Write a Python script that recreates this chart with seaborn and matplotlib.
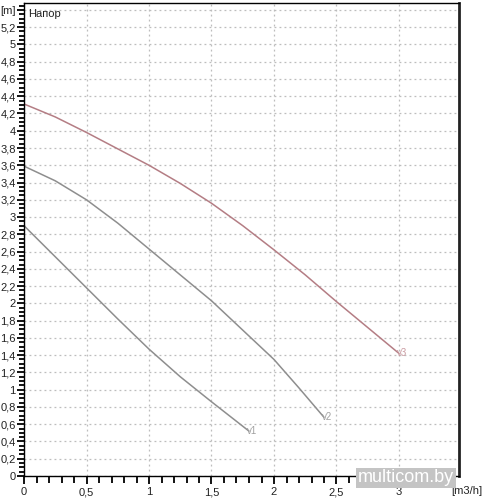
import matplotlib
matplotlib.use("Agg")
import matplotlib.pyplot as plt
from matplotlib.ticker import MultipleLocator, FixedLocator
import seaborn as sns
import pandas as pd
import numpy as np

# ---- data ----
q1 = [0.0, 0.25, 0.5, 0.75, 1.0, 1.25, 1.5, 1.8]
h1 = [2.90, 2.54, 2.18, 1.82, 1.47, 1.15, 0.86, 0.52]

q2 = [0.0, 0.25, 0.5, 0.75, 1.0, 1.25, 1.5, 1.75, 2.0, 2.2, 2.4]
h2 = [3.59, 3.42, 3.20, 2.93, 2.63, 2.33, 2.03, 1.69, 1.35, 1.02, 0.68]

q3 = [0.0, 0.25, 0.5, 0.75, 1.0, 1.25, 1.5, 1.75, 2.0, 2.25, 2.5, 2.75, 3.0]
h3 = [4.31, 4.16, 3.98, 3.79, 3.60, 3.39, 3.16, 2.90, 2.62, 2.33, 2.02, 1.72, 1.42]

curve_names = ["v1", "v2", "v3"]
curve_colors = ["#8e8e8e", "#8e8e8e", "#b47d84"]
label_colors = ["#a0a0a0", "#a0a0a0", "#c99aa0"]

ytick_values = [round(0.2 * i, 1) for i in range(28)]
ytick_labels = [f"{v:g}".replace(".", ",") for v in ytick_values[:-1]] + ["[m]"]
xtick_values = [0, 0.5, 1, 1.5, 2, 2.5, 3]
xtick_labels = ["0", "0,5", "1", "1,5", "2", "2,5", "3"]
x_unit = "[m3/h]"
title_text = "Напор"
watermark = "multicom.by"

df = pd.concat([
    pd.DataFrame({"q": q1, "h": h1, "curve": "v1"}),
    pd.DataFrame({"q": q2, "h": h2, "curve": "v2"}),
    pd.DataFrame({"q": q3, "h": h3, "curve": "v3"}),
], ignore_index=True)

sns.set_style("white")
plt.rcParams["font.family"] = ["Liberation Sans", "DejaVu Sans"]

fig = plt.figure(figsize=(4.83, 5.0), dpi=100)
ax = fig.add_axes([24 / 483, 1 - 476 / 500, (459 - 24) / 483, (476 - 3) / 500])

sns.lineplot(data=df, x="q", y="h", hue="curve", palette=dict(zip(curve_names, curve_colors)),
             ax=ax, legend=False, linewidth=1.1, sort=False, estimator=None)

# end labels
for name, q, h, c in zip(curve_names, [q1, q2, q3], [h1, h2, h3], label_colors):
    ax.text(q[-1] - 0.015, h[-1], name, color=c, fontsize=7, ha="left", va="center")

ax.set_xlim(0, 3.48)
ax.set_ylim(0, 5.48)
ax.set_xlabel("")
ax.set_ylabel("")

ax.yaxis.set_major_locator(FixedLocator(ytick_values))
ax.set_yticklabels(ytick_labels)
ax.yaxis.set_minor_locator(MultipleLocator(0.05))
ax.xaxis.set_major_locator(FixedLocator(xtick_values))
ax.set_xticklabels(xtick_labels)
ax.xaxis.set_minor_locator(MultipleLocator(0.1))

ax.tick_params(axis="both", which="major", direction="out", length=5, width=1.3,
               color="black", labelsize=8, labelcolor="#222222", pad=1)
ax.tick_params(axis="both", which="minor", direction="out", length=3.5, width=1.3, color="black")
ax.tick_params(axis="x", which="major", length=6, pad=2)
ax.tick_params(axis="x", which="minor", length=5)
ax.tick_params(left=True, bottom=True, which="both")

ax.grid(True, which="major", color="#bdbdbd", linestyle=(0, (1.5, 2.5)), linewidth=0.9)

for s in ["left", "bottom", "top"]:
    ax.spines[s].set_color("black")
    ax.spines[s].set_linewidth(1.0)
ax.spines["right"].set_color("#222222")
ax.spines["right"].set_linewidth(2.0)

ax.text(0.01, 0.988, title_text, transform=ax.transAxes, fontsize=8, color="#222222",
        ha="left", va="top")
fig.text(482 / 483, 1 - 491 / 500, x_unit, fontsize=8, color="#222222", ha="right", va="center")

fig.text(406 / 483, 1 - 478 / 500, watermark, fontsize=13, color="white", ha="center", va="center",
         bbox=dict(boxstyle="square,pad=0.1", facecolor="#c4c4c4", edgecolor="none"))

fig.savefig("out.png", dpi=100)
